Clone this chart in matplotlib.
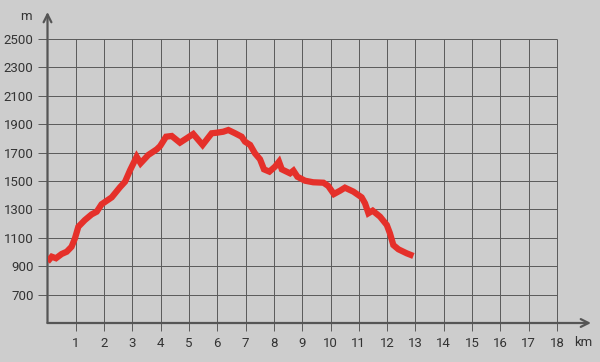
import matplotlib
matplotlib.use('Agg')
import matplotlib.pyplot as plt

km = [0.0, 0.15, 0.3, 0.5, 0.68, 0.85, 0.97, 1.09, 1.32, 1.56, 1.74, 1.91, 2.27,
      2.56, 2.74, 2.92, 3.15, 3.29, 3.56, 3.86, 3.98, 4.19, 4.39, 4.68, 4.92,
      5.15, 5.48, 5.8, 5.98, 6.21, 6.39, 6.63, 6.86, 6.98, 7.16, 7.33, 7.51,
      7.65, 7.84, 8.04, 8.18, 8.28, 8.57, 8.69, 8.83, 9.1, 9.39, 9.75, 9.92,
      10.12, 10.34, 10.51, 10.81, 11.1, 11.22, 11.34, 11.49, 11.75, 11.99,
      12.1, 12.22, 12.4, 12.69, 12.93]
hoehe = [932, 967, 956, 986, 1002, 1037, 1096, 1178, 1225, 1265, 1284, 1336, 1385,
         1456, 1495, 1577, 1671, 1625, 1683, 1723, 1746, 1812, 1817, 1770, 1801,
         1831, 1754, 1836, 1840, 1847, 1859, 1836, 1812, 1777, 1754, 1695, 1653,
         1582, 1566, 1601, 1636, 1582, 1554, 1573, 1530, 1502, 1491, 1488, 1465,
         1408, 1432, 1453, 1425, 1385, 1343, 1273, 1291, 1249, 1190,
         1132, 1049, 1019, 991, 972]

x_ticks = list(range(1, 19))
y_ticks = [700, 900, 1100, 1300, 1500, 1700, 1900, 2100, 2300, 2500]

bg = '#cdcdcd'
grid_c = '#5a5a5a'
achse_c = '#555555'

plt.rcParams['font.family'] = ['Roboto', 'DejaVu Sans']

fig = plt.figure(figsize=(6, 3.62), dpi=100, facecolor=bg)
ax = fig.add_axes([47.5 / 600, 39 / 362, (591 - 47.5) / 600, (350 - 39) / 362])
ax.set_facecolor(bg)

xmax = (591 - 47.5) / 28.3
ymin = 500
ymax = 2500 + (39 - 12) / 28.4 * 200
ax.set_xlim(0, xmax)
ax.set_ylim(ymin, ymax)

for s in ax.spines.values():
    s.set_visible(False)

# Gitter
ax.vlines(x_ticks, ymin, 2500, color=grid_c, lw=0.7, zorder=1)
ax.hlines(y_ticks, 0, 18, color=grid_c, lw=0.7, zorder=1)

ax.set_xticks(x_ticks)
ax.set_yticks(y_ticks)
ax.tick_params(axis='x', length=6, width=0.7, color=grid_c, pad=4,
               labelsize=9.5, labelcolor='#333333')
ax.tick_params(axis='y', length=7, width=0.7, color=grid_c, pad=3,
               labelsize=9.5, labelcolor='#333333')

# Achsen mit Pfeil
pfeil = dict(arrowstyle='->', color=achse_c, lw=1.6, shrinkA=0, shrinkB=0,
             mutation_scale=14)
ax.annotate('', xy=(xmax, ymin), xytext=(0, ymin), arrowprops=pfeil,
            annotation_clip=False)
ax.annotate('', xy=(0, ymax), xytext=(0, ymin), arrowprops=pfeil,
            annotation_clip=False)

ax.plot(km, hoehe, color='#e5302a', lw=4.5, solid_joinstyle='miter',
        solid_capstyle='butt', zorder=3)

fig.text(26 / 600, 1 - 17 / 362, 'm', ha='center', va='center',
         fontsize=9.5, color='#333333')
fig.text(583 / 600, 1 - 343 / 362, 'km', ha='center', va='center',
         fontsize=9.5, color='#333333')

fig.savefig('out.png', dpi=100, facecolor=bg)
